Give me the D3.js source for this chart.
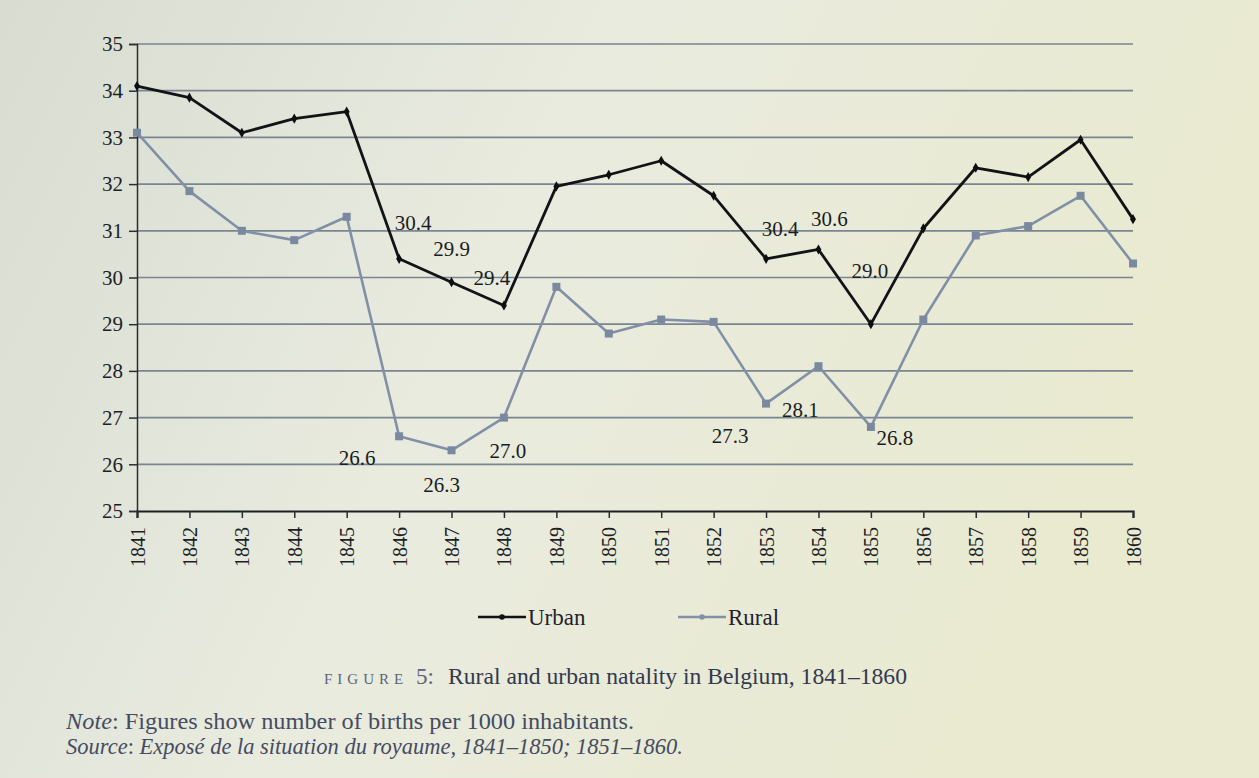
<!doctype html>
<html>
<head>
<script src="https://d3js.org/d3.v7.min.js"></script>
<style>
  body { margin: 0; background: #e2e4d8; }
  svg { display: block; font-family: "Liberation Serif", "DejaVu Serif", serif; }
</style>
</head>
<body>
<svg id="chart" width="1259" height="778"></svg>
<script>
// data
var years = [1841, 1842, 1843, 1844, 1845, 1846, 1847, 1848, 1849, 1850,
             1851, 1852, 1853, 1854, 1855, 1856, 1857, 1858, 1859, 1860];
var urban = [34.1, 33.85, 33.1, 33.4, 33.55, 30.4, 29.9, 29.4, 31.95, 32.2,
             32.5, 31.75, 30.4, 30.6, 29.0, 31.05, 32.35, 32.15, 32.95, 31.25];
var rural = [33.1, 31.85, 31.0, 30.8, 31.3, 26.6, 26.3, 27.0, 29.8, 28.8,
             29.1, 29.05, 27.3, 28.1, 26.8, 29.1, 30.9, 31.1, 31.75, 30.3];
var yTicks = [25, 26, 27, 28, 29, 30, 31, 32, 33, 34, 35];
// which points carry a value label
var urbanLabelled = [1846, 1847, 1848, 1853, 1854, 1855];
var ruralLabelled = [1846, 1847, 1848, 1853, 1854, 1855];

// label nudges (pixels) per labelled year
var urbanNudge = {1846: [14, -36], 1847: [0, -34], 1848: [-12, -28], 1853: [14, -30], 1854: [11, -31], 1855: [-1, -54]};
var ruralNudge = {1846: [-42, 21], 1847: [-10, 34], 1848: [4, 33], 1853: [-36, 32], 1854: [-18, 43], 1855: [24, 11]};

var svg = d3.select("#chart");
var W = 1259, H = 778;

// photographed-screen background
var defs = svg.append("defs");
var bg = defs.append("linearGradient").attr("id", "bg").attr("x1", 0).attr("x2", 1).attr("y1", 0).attr("y2", 0.3);
bg.append("stop").attr("offset", "0%").attr("stop-color", "#d8dcd1");
bg.append("stop").attr("offset", "45%").attr("stop-color", "#e9ebdf");
bg.append("stop").attr("offset", "100%").attr("stop-color", "#e9eacf");
svg.append("rect").attr("width", W).attr("height", H).attr("fill", "url(#bg)");

var x = d3.scaleLinear().domain([1841, 1860]).range([137, 1133]);
var y = d3.scaleLinear().domain([25, 35]).range([511, 44]);

// gridlines
svg.append("g")
  .selectAll("line")
  .data(yTicks.filter(function(d) { return d > 25; }))
  .enter().append("line")
  .attr("x1", 137).attr("x2", 1133)
  .attr("y1", function(d) { return y(d); })
  .attr("y2", function(d) { return y(d); })
  .attr("stroke", "#7a8592").attr("stroke-width", 1.7);

// y axis
var yAxis = svg.append("g")
  .attr("transform", "translate(137,0)")
  .call(d3.axisLeft(y).tickValues(yTicks).tickSize(8).tickPadding(6).tickFormat(d3.format("d")));
yAxis.select(".domain").attr("stroke", "#2a2d33").attr("stroke-width", 1.5);
yAxis.selectAll(".tick line").attr("stroke", "#2a2d33").attr("stroke-width", 1.5);
yAxis.selectAll("text").attr("font-size", 21).attr("fill", "#1c1f28")
  .attr("font-family", "Liberation Serif, serif");

// x axis
var xAxis = svg.append("g")
  .attr("transform", "translate(0,511)")
  .call(d3.axisBottom(x).tickValues(years).tickSize(7).tickFormat(d3.format("d")));
xAxis.select(".domain").attr("stroke", "#1c1e24").attr("stroke-width", 2.2);
xAxis.selectAll(".tick line").attr("stroke", "#2a2d33").attr("stroke-width", 1.5);
xAxis.selectAll("text")
  .attr("font-size", 20).attr("fill", "#1c1f28")
  .attr("font-family", "Liberation Serif, serif")
  .attr("transform", "rotate(-90)")
  .attr("text-anchor", "end")
  .attr("x", -16).attr("y", 0).attr("dy", "0.35em");

// lines
var line = d3.line()
  .x(function(d) { return x(d[0]); })
  .y(function(d) { return y(d[1]); });

var ruralPts = years.map(function(yr, i) { return [yr, rural[i]]; });
var urbanPts = years.map(function(yr, i) { return [yr, urban[i]]; });

svg.append("path").datum(ruralPts)
  .attr("d", line).attr("fill", "none")
  .attr("stroke", "#8190a6").attr("stroke-width", 2.6).attr("stroke-linejoin", "round");
svg.append("g").selectAll("rect").data(ruralPts).enter().append("rect")
  .attr("x", function(d) { return x(d[0]) - 4; })
  .attr("y", function(d) { return y(d[1]) - 4; })
  .attr("width", 8).attr("height", 8)
  .attr("fill", "#7a89a0");

svg.append("path").datum(urbanPts)
  .attr("d", line).attr("fill", "none")
  .attr("stroke", "#121316").attr("stroke-width", 2.8).attr("stroke-linejoin", "round");
svg.append("g").selectAll("path").data(urbanPts).enter().append("path")
  .attr("d", d3.symbol().type(d3.symbolDiamond).size(30))
  .attr("transform", function(d) { return "translate(" + x(d[0]) + "," + y(d[1]) + ")"; })
  .attr("fill", "#0d0e10");

// value labels
function labels(pts, which, nudge) {
  svg.append("g").selectAll("text")
    .data(pts.filter(function(d) { return which.indexOf(d[0]) >= 0; }))
    .enter().append("text")
    .attr("x", function(d) { return x(d[0]) + nudge[d[0]][0]; })
    .attr("y", function(d) { return y(d[1]) + nudge[d[0]][1]; })
    .attr("text-anchor", "middle")
    .attr("dy", "0.35em")
    .attr("font-size", 21).attr("fill", "#1a1c22")
    .text(function(d) { return d[1].toFixed(1); });
}
labels(urbanPts, urbanLabelled, urbanNudge);
labels(ruralPts, ruralLabelled, ruralNudge);

// legend
var legend = [["Urban", "#121316", 478], ["Rural", "#8190a6", 678]];
var lg = svg.append("g").selectAll("g").data(legend).enter().append("g")
  .attr("transform", function(d) { return "translate(" + d[2] + ",617)"; });
lg.append("line").attr("x1", 0).attr("x2", 48)
  .attr("stroke", function(d) { return d[1]; }).attr("stroke-width", 2.4);
lg.append("circle").attr("cx", 24).attr("r", 2.8).attr("fill", function(d) { return d[1]; });
lg.append("text").attr("x", 50).attr("dy", "0.35em")
  .attr("font-size", 23).attr("fill", "#1e2230")
  .text(function(d) { return d[0]; });

// caption
var cap = svg.append("text").attr("y", 684).attr("fill", "#33394f");
cap.append("tspan").attr("x", 324).attr("font-size", 15).attr("letter-spacing", 5)
  .attr("fill", "#5a6478").text("FIGURE");
cap.append("tspan").attr("x", 416).attr("font-size", 23).attr("fill", "#5a6478").text("5:");
cap.append("tspan").attr("x", 448).attr("font-size", 23)
  .attr("textLength", 459).attr("lengthAdjust", "spacingAndGlyphs")
  .text("Rural and urban natality in Belgium, 1841–1860");

var note = svg.append("text").attr("x", 66).attr("y", 729)
  .attr("font-size", 23).attr("fill", "#454c62")
  .attr("textLength", 568).attr("lengthAdjust", "spacingAndGlyphs");
note.append("tspan").attr("font-style", "italic").text("Note");
note.append("tspan").text(": Figures show number of births per 1000 inhabitants.");

var src = svg.append("text").attr("x", 66).attr("y", 754)
  .attr("font-size", 22.5).attr("fill", "#454c62").attr("font-style", "italic")
  .attr("textLength", 617).attr("lengthAdjust", "spacingAndGlyphs");
src.append("tspan").text("Source");
src.append("tspan").attr("font-style", "normal").text(": ");
src.append("tspan").text("Exposé de la situation du royaume, 1841–1850; 1851–1860.");
</script>
</body>
</html>
